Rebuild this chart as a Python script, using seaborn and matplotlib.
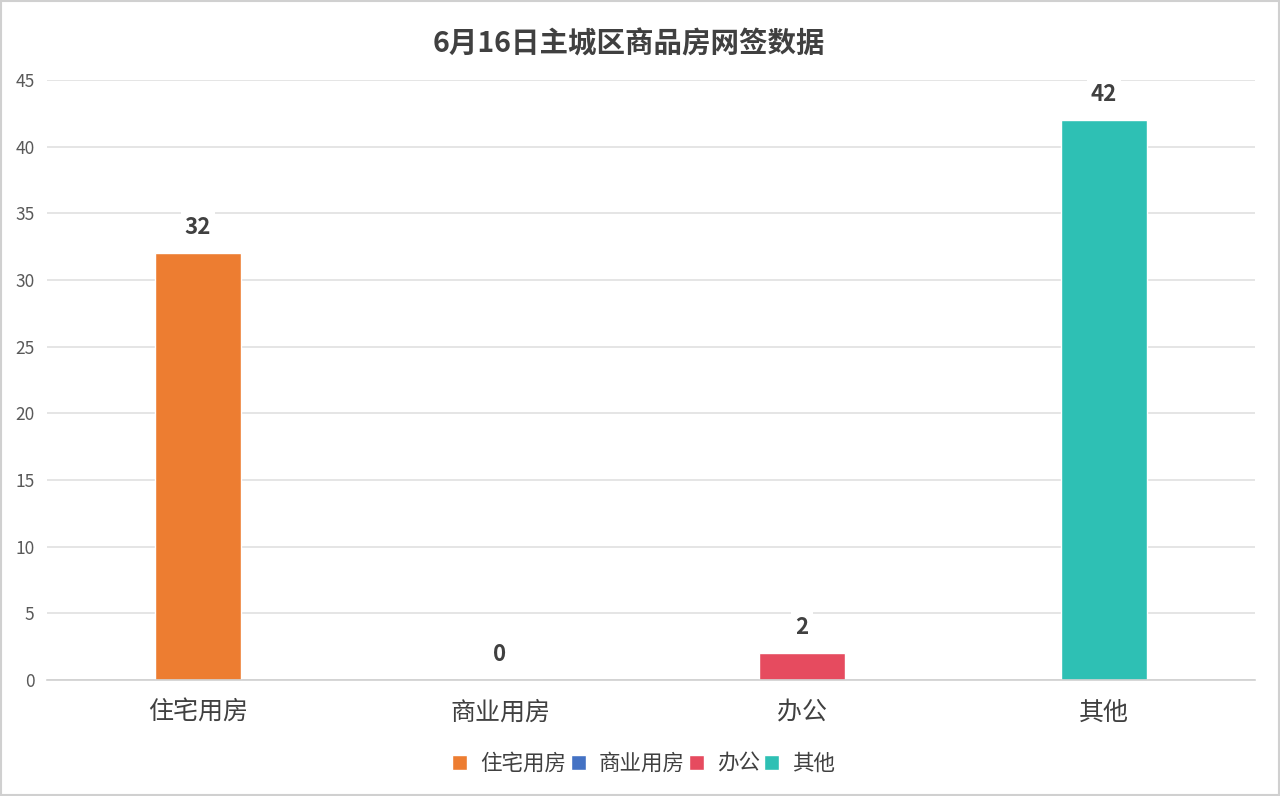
import matplotlib
matplotlib.use("Agg")
import matplotlib.pyplot as plt
import seaborn as sns
import pandas as pd
from matplotlib.patches import Rectangle

categories = ['住宅用房', '商业用房', '办公', '其他']
values = [32, 0, 2, 42]
colors = ['#ED7D31', '#4472C4', '#E64B5F', '#2EC0B4']
title = '6月16日主城区商品房网签数据'

sns.set_theme(style="white")
plt.rcParams['font.family'] = ['Noto Sans CJK SC', 'DejaVu Sans']

df = pd.DataFrame({'类别': categories, '数量': values})

fig = plt.figure(figsize=(12.8, 7.96), dpi=100)
ax = fig.add_axes([0.0367, 0.1457, 0.9438, 0.7538])

sns.barplot(data=df, x='类别', y='数量', hue='类别', palette=colors,
            width=0.285, legend=True, ax=ax, saturation=1)

ax.set_ylim(0, 45)
ax.set_yticks(range(0, 46, 5))
ax.grid(axis='y', color='#E0E0E0', linewidth=1.2)
ax.set_axisbelow(True)
for s in ['top', 'right', 'left']:
    ax.spines[s].set_visible(False)
ax.spines['bottom'].set_color('#D0D0D0')
ax.spines['bottom'].set_linewidth(1.2)
ax.tick_params(axis='y', labelsize=12.5, colors='#595959', length=0, pad=9)
ax.tick_params(axis='x', labelsize=18, colors='#404040', length=0, pad=14)
ax.set_xlabel('')
ax.set_ylabel('')

for cont in ax.containers:
    ax.bar_label(cont, padding=10, fontsize=16, fontweight='bold', color='#404040',
                 bbox=dict(facecolor='white', edgecolor='none', pad=3))

ax.set_title(title, fontsize=20.5, fontweight='bold', color='#404040', pad=20, x=0.482)

handles, labels = ax.get_legend_handles_labels()
ax.legend(handles, labels, loc='center', bbox_to_anchor=(0.494, -0.14), ncol=4,
          frameon=False, fontsize=15.5, handlelength=0.7, handleheight=0.7,
          handletextpad=0.6, columnspacing=0.2, labelcolor='#404040')

fig.patches.append(Rectangle((0.001, 0.001), 0.998, 0.998, transform=fig.transFigure,
                             fill=False, edgecolor='#D0D0D0', linewidth=1.5))

fig.savefig('out.png', dpi=100)
